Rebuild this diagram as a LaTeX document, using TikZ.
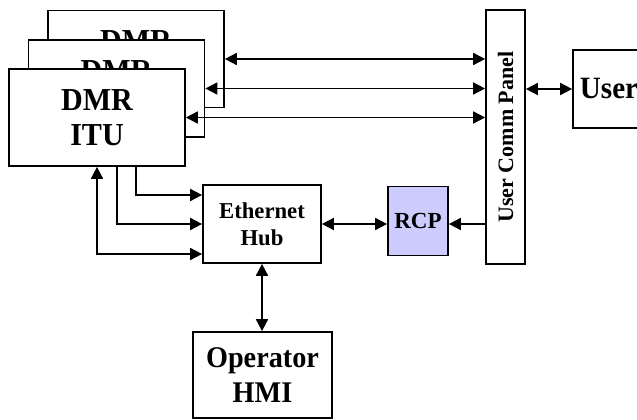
\documentclass[tikz,border=0pt]{standalone}
\usepackage{fontspec}
\setmainfont{Liberation Serif}
\newfontfamily\tallfont[FakeStretch=0.94]{Liberation Serif}
\usetikzlibrary{arrows.meta}
\begin{document}
\begin{tikzpicture}[x=1pt,y=-1pt,
  box/.style={draw=black, line width=1.7pt, fill=white, rectangle, inner sep=0pt, align=center},
  dmrbox/.style={box, minimum width=176pt, minimum height=97pt, font=\fontsize{32}{35}\tallfont\bfseries},
  con/.style={line width=1.7pt, -{Triangle[length=12pt,width=12pt]}},
  bicon/.style={line width=1.7pt, {Triangle[length=12pt,width=12pt]}-{Triangle[length=12pt,width=12pt]}},
]
\useasboundingbox (0,0) rectangle (637,420);
\begin{scope}
\clip (0,0) rectangle (637,420);
% stacked DMR boxes, back to front
\node[dmrbox] (b3) at (136,59) {DMR\\ITU};
\node[dmrbox] (b2) at (116.5,88.5) {DMR\\ITU};
\node[dmrbox] (b1) at (97,117.5) {DMR\\ITU};
% user comm panel
\node[box, minimum width=39pt, minimum height=254pt] (panel) at (505.5,137) {};
\node[rotate=90, inner sep=0pt, font=\fontsize{22}{26}\selectfont\bfseries] (paneltext) at (panel.center) {User Comm Panel};
% user
\node[box, minimum width=72pt, minimum height=78pt, font=\fontsize{31}{34}\tallfont\bfseries] (user) at (609,89) {User};
% ethernet hub
\node[box, minimum width=118pt, minimum height=78pt, font=\fontsize{22.7}{27}\selectfont\bfseries] (hub) at (262,224) {Ethernet\\Hub};
% RCP
\node[box, fill={rgb,255:red,204;green,204;blue,255}, minimum width=60pt, minimum height=69pt, font=\fontsize{23}{27}\selectfont\bfseries] (rcp) at (418,221) {RCP};
% operator HMI
\node[box, minimum width=139pt, minimum height=86pt, font=\fontsize{30}{35}\tallfont\bfseries] (hmi) at (262.5,375) {Operator\\HMI};
% connectors
\draw[bicon] (panel.west |- b3.east) -- (b3.east);
\draw[bicon] (panel.west |- b2.east) -- (b2.east);
\draw[bicon] (panel.west |- b1.east) -- (b1.east);
\draw[bicon] (panel.east |- user.west) -- (user.west);
\draw[con] (panel.west |- hub.east) -- (rcp.east |- hub.east);
\draw[bicon] (hub.east) -- (rcp.west |- hub.east);
\draw[bicon] (hub.south) -- (hmi.north -| hub.south);
\draw[con] ([xshift=39pt]b1.south) |- ([yshift=29pt]hub.west);
\draw[con] ([xshift=20pt]b1.south) |- (hub.west);
\draw[bicon] (b1.south) |- ([yshift=-30pt]hub.west);
\end{scope}
\end{tikzpicture}
\end{document}
